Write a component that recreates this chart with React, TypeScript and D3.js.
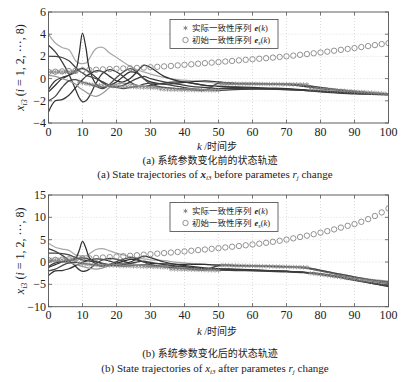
import React from 'react';
import * as d3 from 'd3';

const W = 417;
const H = 382;

// knots (time steps) at which trajectory values were read
const K = [0, 2, 4, 6, 8, 9, 10, 11, 12, 14, 16, 18, 20, 22, 24, 26, 28, 30, 34, 38, 42, 46, 50, 55, 60, 65, 70, 75, 80, 85, 90, 95, 100];
const xTicks = [0, 10, 20, 30, 40, 50, 60, 70, 80, 90, 100];
const topYTicks = [-4, -2, 0, 2, 4, 6];
const botYTicks = [-10, -5, 0, 5, 10, 15];

// ---------- (a) before parameter change ----------
const topT1 = [4.0, 3.2, 2.8, 2.6, 1.6, 1.4, 1.35, 1.4, 1.8, 2.7, 2.8, 2.3, 1.9, 1.5, 1.1, 0.8, 0.6, 0.4, 0.1, -0.1, -0.2, -0.3, -0.4, -0.45, -0.5, -0.5, -0.5, -0.6, -0.85, -1.0, -1.15, -1.3, -1.42];
const topT2 = [-1.2, -0.6, 0.0, 0.3, 0.8, 2.2, 4.1, 2.8, 0.9, -0.5, -0.8, -0.6, -0.3, 0.2, 0.6, 0.5, 0.0, -0.3, -0.5, -0.4, -0.3, -0.2, -0.3, -0.45, -0.5, -0.5, -0.55, -0.7, -0.9, -1.05, -1.2, -1.3, -1.4];
const topT3 = [3.0, 2.4, 1.5, 0.4, -1.0, -1.7, -2.1, -2.0, -1.6, -0.4, 0.5, 0.8, 0.6, 0.2, -0.3, -0.6, -0.7, -0.6, -0.4, -0.3, -0.4, -0.6, -0.7, -0.8, -0.85, -0.9, -0.95, -1.05, -1.12, -1.2, -1.3, -1.38, -1.45];
const topT4 = [2.0, 2.0, 1.9, 1.6, 1.0, 0.7, 0.5, 0.3, 0.2, 0.0, -0.3, -0.6, -0.8, -0.9, -0.8, -0.7, -0.5, -0.4, -0.5, -0.7, -0.9, -1.0, -1.05, -1.0, -0.95, -0.95, -1.0, -1.05, -1.15, -1.25, -1.32, -1.38, -1.43];
const topT5 = [-3.0, -2.0, -1.9, -1.5, -0.8, -0.4, -0.1, 0.2, 0.4, 0.7, 0.6, 0.2, -0.2, -0.3, 0.0, 0.6, 1.2, 1.0, 0.2, -0.2, -0.4, -0.6, -0.7, -0.75, -0.8, -0.85, -0.9, -1.0, -1.1, -1.2, -1.3, -1.37, -1.43];
const topT6 = [0.3, 0.2, 0.0, -0.2, -0.5, -0.8, -1.0, -1.2, -1.4, -1.6, -1.3, -0.8, -0.5, -0.4, -0.5, -0.6, -0.7, -0.75, -0.8, -0.9, -0.95, -1.0, -0.6, -0.5, -0.48, -0.47, -0.48, -0.55, -0.8, -1.0, -1.15, -1.3, -1.42];
const topT7 = [-1.0, -0.2, 0.1, 0.3, 0.6, 0.85, 0.9, 0.8, 0.6, 0.1, -0.4, -0.7, -0.75, -0.6, -0.3, 0.0, 0.2, 0.0, -0.3, -0.5, -0.7, -0.8, -0.9, -0.9, -0.92, -0.95, -1.0, -1.05, -1.2, -1.3, -1.38, -1.42, -1.47];
const topT8 = [-2.0, -1.6, -0.8, -0.2, -0.1, -0.2, -0.3, -0.4, -0.5, -0.7, -0.9, -0.5, 0.1, 0.6, 0.9, 0.6, 0.0, -0.5, -0.8, -0.9, -1.0, -1.05, -0.4, -0.42, -0.44, -0.46, -0.5, -0.6, -0.8, -1.0, -1.15, -1.3, -1.4];

// actual consensus sequence e(k), k = 0..100
const topE = [
  0.6, 0.6, 0.6, 0.6, 0.6, 0.6, 0.6, 0.6, 0.6,
  -0.3, -0.4, -0.45, -0.5, -0.55, -0.6, -0.6, -0.62, -0.65, -0.65, -0.68, -0.7, -0.7, -0.72, -0.72, -0.75, -0.75, -0.78, -0.78, -0.8, -0.8, -0.82, -0.82, -0.85,
  -0.95, -0.97, -0.98, -1.0, -1.0, -1.0, -1.02, -1.02, -1.03, -1.03, -1.04, -1.04, -1.05, -1.05, -1.05, -1.06, -1.06, -1.06,
  -0.45, -0.45, -0.46, -0.46, -0.46, -0.47, -0.47, -0.47, -0.48, -0.48, -0.48, -0.49, -0.49, -0.49, -0.5, -0.5, -0.5, -0.5, -0.51, -0.51, -0.51, -0.52, -0.52, -0.52, -0.53, -0.53,
  -0.9, -0.92, -0.94, -0.96, -0.98, -1.0, -1.02, -1.04, -1.06, -1.08, -1.1, -1.12, -1.14, -1.16, -1.18, -1.2, -1.22, -1.24, -1.26, -1.28, -1.3, -1.33, -1.36, -1.4,
];
// initial consensus sequence e_s(k), k = 0, 2, ..., 100
const topES = [
  0.6, 0.62, 0.65, 0.68, 0.72, 0.76, 0.78, 0.8, 0.83, 0.86, 0.89, 0.91, 0.93, 0.96, 0.99, 1.02, 1.06, 1.1, 1.14, 1.19, 1.24, 1.29, 1.34, 1.39, 1.44, 1.49,
  1.54, 1.59, 1.64, 1.69, 1.74, 1.79, 1.84, 1.89, 1.95, 2.01, 2.07, 2.14, 2.21, 2.28, 2.35, 2.43, 2.51, 2.59, 2.67, 2.75, 2.84, 2.93, 3.02, 3.11, 3.2,
];

// ---------- (b) after parameter change ----------
const botT1 = [4.2, 3.3, 2.9, 2.6, 1.6, 1.4, 1.35, 1.4, 1.8, 2.8, 3.0, 2.5, 2.0, 1.6, 1.2, 0.9, 0.7, 0.5, 0.3, -0.1, -0.3, -0.5, -0.6, -0.75, -0.85, -0.95, -1.05, -1.2, -1.8, -2.6, -3.3, -3.9, -4.3];
const botT2 = [-1.2, -0.6, 0.0, 0.3, 0.9, 2.5, 4.6, 3.1, 1.0, -0.5, -0.8, -0.6, -0.3, 0.2, 0.6, 0.5, 0.0, -0.3, -0.4, -0.5, -0.5, -0.55, -0.7, -0.8, -0.9, -1.0, -1.1, -1.3, -2.0, -2.8, -3.5, -4.2, -4.8];
const botT3 = [3.0, 2.4, 1.5, 0.4, -1.0, -1.7, -2.1, -2.0, -1.6, -0.4, 0.5, 0.8, 0.6, 0.2, -0.3, -0.6, -0.8, -0.9, -0.9, -1.1, -1.3, -1.5, -1.6, -1.7, -1.8, -1.95, -2.1, -2.3, -2.7, -3.3, -4.0, -4.7, -5.4];
const botT4 = [2.0, 2.0, 1.9, 1.6, 1.0, 0.7, 0.5, 0.3, 0.2, 0.0, -0.3, -0.6, -0.8, -0.9, -0.8, -0.7, -0.6, -0.7, -1.0, -1.3, -1.5, -1.7, -1.8, -1.9, -2.0, -2.1, -2.2, -2.4, -2.8, -3.4, -4.1, -4.8, -5.5];
const botT5 = [-3.0, -2.0, -1.9, -1.5, -0.8, -0.4, -0.1, 0.2, 0.4, 0.7, 0.6, 0.2, -0.2, -0.3, 0.0, 0.7, 1.3, 1.0, 0.0, -0.6, -1.0, -1.3, -1.5, -1.6, -1.75, -1.9, -2.05, -2.25, -2.6, -3.2, -3.9, -4.6, -5.2];
const botT6 = [0.3, 0.2, 0.0, -0.2, -0.5, -0.8, -1.0, -1.2, -1.4, -1.6, -1.3, -0.8, -0.5, -0.4, -0.5, -0.6, -0.7, -0.85, -1.0, -1.2, -1.4, -1.5, -0.9, -0.85, -0.9, -1.0, -1.1, -1.25, -1.9, -2.7, -3.4, -4.1, -4.6];
const botT7 = [-1.0, -0.2, 0.1, 0.3, 0.6, 0.85, 0.9, 0.8, 0.6, 0.1, -0.4, -0.7, -0.75, -0.6, -0.3, 0.0, 0.2, -0.1, -0.6, -0.9, -1.2, -1.5, -1.7, -1.75, -1.85, -1.95, -2.1, -2.3, -2.7, -3.3, -4.0, -4.7, -5.3];
const botT8 = [-2.0, -1.6, -0.8, -0.2, -0.1, -0.2, -0.3, -0.4, -0.5, -0.7, -0.9, -0.5, 0.1, 0.6, 1.0, 0.7, 0.0, -0.6, -1.1, -1.4, -1.6, -1.8, -0.8, -0.8, -0.85, -0.95, -1.05, -1.2, -1.85, -2.6, -3.3, -4.0, -4.5];

const botE = [
  0.5, 0.5, 0.5, 0.5, 0.5, 0.5, 0.5, 0.5, 0.5,
  -0.3, -0.4, -0.5, -0.55, -0.6, -0.65, -0.7, -0.72, -0.75, -0.78, -0.8, -0.82, -0.85, -0.88, -0.9, -0.92, -0.95, -0.98, -1.0, -1.02, -1.05, -1.08, -1.1, -1.12, -1.15, -1.18, -1.2,
  -1.6, -1.62, -1.64, -1.66, -1.68, -1.7, -1.72, -1.74, -1.76, -1.78, -1.8, -1.82, -1.84, -1.86, -1.88,
  -0.7, -0.72, -0.74, -0.76, -0.78, -0.8, -0.82, -0.84, -0.86, -0.88, -0.9, -0.92, -0.94, -0.96, -0.98, -1.0, -1.02, -1.04, -1.06, -1.08, -1.1, -1.12, -1.14, -1.16, -1.18, -1.2,
  -2.5, -2.6, -2.7, -2.8, -2.9, -3.0, -3.1, -3.2, -3.3, -3.4, -3.5, -3.6, -3.7, -3.8, -3.9, -4.0, -4.1, -4.2, -4.3, -4.4, -4.5, -4.6, -4.75, -4.9,
];
const botES = [
  0.45, 0.5, 0.55, 0.62, 0.7, 0.78, 0.85, 0.93, 1.01, 1.1, 1.2, 1.3, 1.41, 1.52, 1.64, 1.76, 1.88, 2.0, 2.12, 2.25, 2.38, 2.52, 2.66, 2.8, 2.95, 3.1,
  3.26, 3.42, 3.58, 3.75, 3.92, 4.1, 4.3, 4.52, 4.76, 5.02, 5.3, 5.6, 5.9, 6.22, 6.56, 6.92, 7.3, 7.7, 8.1, 8.5, 9.0, 9.6, 10.3, 11.1, 12.0,
];

const lineColors = ['#a8a8a8', '#2e2e2e', '#3a3a3a', '#444', '#333', '#999', '#3d3d3d', '#4a4a4a'];

const SERIF = '"Liberation Serif", "Times New Roman", serif';
const CJK = '"Noto Sans CJK SC", sans-serif';

const X0 = 48.5;
const X1 = 388.5;

type PanelProps = {
  top: number;
  bottom: number;
  domain: [number, number];
  yTicks: number[];
  traj: number[][];
  e: number[];
  es: number[];
};

function Panel({ top, bottom, domain, yTicks, traj, e, es }: PanelProps) {
  const x = d3.scaleLinear().domain([0, 100]).range([X0, X1]);
  const y = d3.scaleLinear().domain(domain).range([bottom, top]);
  const line = d3
    .line<number>()
    .x((_, i) => x(K[i]))
    .y((v) => y(v))
    .curve(d3.curveCatmullRom.alpha(0.5));
  const star = d3.symbol(d3.symbolAsterisk, 14)() as string;
  const clipId = `clip${Math.round(top)}`;
  const tl = 3.5;
  const axisColor = '#555';
  return (
    <g>
      <defs>
        <clipPath id={clipId}>
          <rect x={X0} y={top} width={X1 - X0} height={bottom - top} />
        </clipPath>
      </defs>
      <rect x={X0} y={top} width={X1 - X0} height={bottom - top} fill="#fff" />
      {xTicks.map((t) => (
        <line key={'gx' + t} x1={x(t)} x2={x(t)} y1={top} y2={bottom} stroke="#cfcfcf" strokeWidth={0.7} strokeDasharray="1,2" />
      ))}
      {yTicks.map((t) => (
        <line key={'gy' + t} x1={X0} x2={X1} y1={y(t)} y2={y(t)} stroke="#cfcfcf" strokeWidth={0.7} strokeDasharray="1,2" />
      ))}
      <g clipPath={`url(#${clipId})`}>
        {traj.map((s, i) => (
          <path key={'t' + i} d={line(s) as string} fill="none" stroke={lineColors[i]} strokeWidth={1.25} />
        ))}
        {e.map((v, k) => (
          <path key={'e' + k} d={star} transform={`translate(${x(k)},${y(v)})`} fill="none" stroke="#8a8a8a" strokeWidth={0.8} />
        ))}
        {es.map((v, i) => (
          <circle key={'c' + i} cx={x(i * 2)} cy={y(v)} r={2.7} fill="none" stroke="#777" strokeWidth={0.8} />
        ))}
      </g>
      <rect x={X0} y={top} width={X1 - X0} height={bottom - top} fill="none" stroke={axisColor} strokeWidth={0.9} />
      {xTicks.map((t) => (
        <g key={'tx' + t}>
          <line x1={x(t)} x2={x(t)} y1={bottom} y2={bottom - tl} stroke={axisColor} strokeWidth={0.8} />
          <line x1={x(t)} x2={x(t)} y1={top} y2={top + tl} stroke={axisColor} strokeWidth={0.8} />
          <text x={x(t)} y={bottom + 12.5} textAnchor="middle" fontFamily={SERIF} fontSize={12} fill="#222">
            {t}
          </text>
        </g>
      ))}
      {yTicks.map((t) => (
        <g key={'ty' + t}>
          <line x1={X0} x2={X0 + tl} y1={y(t)} y2={y(t)} stroke={axisColor} strokeWidth={0.8} />
          <line x1={X1} x2={X1 - tl} y1={y(t)} y2={y(t)} stroke={axisColor} strokeWidth={0.8} />
          <text x={X0 - 2.5} y={y(t) + 4} textAnchor="end" fontFamily={SERIF} fontSize={12} fill="#222">
            {t < 0 ? '\u2212' + Math.abs(t) : t}
          </text>
        </g>
      ))}
      {/* y-axis label */}
      <text
        transform={`translate(24,${(top + bottom) / 2}) rotate(-90)`}
        textAnchor="middle"
        fontFamily={SERIF}
        fontSize={12}
        fill="#222"
      >
        <tspan fontStyle="italic">x</tspan>
        <tspan fontStyle="italic" fontSize={8} dy={2.5}>i3</tspan>
        <tspan dy={-2.5}> (</tspan>
        <tspan fontStyle="italic">i</tspan>
        <tspan> = 1, 2, ···, 8)</tspan>
      </text>
      {/* legend */}
      <g>
        <rect x={170} y={top + 7.5} width={108} height={29} fill="#fff" stroke="#444" strokeWidth={0.8} />
        <path d={star} transform={`translate(185.5,${top + 16})`} fill="none" stroke="#777" strokeWidth={0.8} />
        <text x={192} y={top + 19} fontFamily={CJK} fontSize={8.5} fill="#222">
          实际一致性序列
          <tspan fontFamily={SERIF} fontStyle="italic" fontWeight="bold" dx={3}>e</tspan>
          <tspan fontFamily={SERIF}>(</tspan>
          <tspan fontFamily={SERIF} fontStyle="italic">k</tspan>
          <tspan fontFamily={SERIF}>)</tspan>
        </text>
        <circle cx={185.5} cy={top + 28} r={2.7} fill="none" stroke="#777" strokeWidth={0.8} />
        <text x={192} y={top + 31.2} fontFamily={CJK} fontSize={8.5} fill="#222">
          初始一致性序列
          <tspan fontFamily={SERIF} fontStyle="italic" fontWeight="bold" dx={3}>e</tspan>
          <tspan fontFamily={SERIF} fontStyle="italic" fontSize={6} dy={2}>s</tspan>
          <tspan fontFamily={SERIF} dy={-2}>(</tspan>
          <tspan fontFamily={SERIF} fontStyle="italic">k</tspan>
          <tspan fontFamily={SERIF}>)</tspan>
        </text>
      </g>
    </g>
  );
}

function XLabel({ y }: { y: number }) {
  return (
    <text x={217} y={y} textAnchor="middle" fontSize={10} fill="#222">
      <tspan fontFamily={SERIF} fontStyle="italic" fontSize={11}>k</tspan>
      <tspan fontFamily={SERIF}> /</tspan>
      <tspan fontFamily={CJK}>时间步</tspan>
    </text>
  );
}

export default function App() {
  return (
    <svg
      width={W}
      height={H}
      viewBox={`0 0 ${W} ${H}`}
      style={{ position: 'absolute', left: 0, top: 0, background: '#fff' }}
    >
      <rect width={W} height={H} fill="#fff" />
      <Panel
        top={12}
        bottom={123}
        domain={[-4, 6]}
        yTicks={topYTicks}
        traj={[topT1, topT2, topT3, topT4, topT5, topT6, topT7, topT8]}
        e={topE}
        es={topES}
      />
      <XLabel y={150} />
      <text x={210} y={164} textAnchor="middle" fontSize={10} fill="#222">
        <tspan fontFamily={SERIF} fontSize={11}>(a) </tspan>
        <tspan fontFamily={CJK}>系统参数变化前的状态轨迹</tspan>
      </text>
      <text x={215} y={177.5} textAnchor="middle" fontFamily={SERIF} fontSize={11} fill="#222">
        (a) State trajectories of{' '}
        <tspan fontStyle="italic" fontWeight="bold">x</tspan>
        <tspan fontStyle="italic" fontSize={7} dy={2.5}>i3</tspan>
        <tspan dy={-2.5}> before parametes </tspan>
        <tspan fontStyle="italic">r</tspan>
        <tspan fontStyle="italic" fontSize={7} dy={2.5}>j</tspan>
        <tspan dy={-2.5}> change</tspan>
      </text>

      <Panel
        top={195}
        bottom={306.7}
        domain={[-10, 15]}
        yTicks={botYTicks}
        traj={[botT1, botT2, botT3, botT4, botT5, botT6, botT7, botT8]}
        e={botE}
        es={botES}
      />
      <XLabel y={335} />
      <text x={210} y={357} textAnchor="middle" fontSize={10} fill="#222">
        <tspan fontFamily={SERIF} fontSize={11}>(b) </tspan>
        <tspan fontFamily={CJK}>系统参数变化后的状态轨迹</tspan>
      </text>
      <text x={215} y={371.5} textAnchor="middle" fontFamily={SERIF} fontSize={11} fill="#222">
        (b) State trajectories of{' '}
        <tspan fontStyle="italic">x</tspan>
        <tspan fontStyle="italic" fontSize={7} dy={2.5}>i3</tspan>
        <tspan dy={-2.5}> after parametes </tspan>
        <tspan fontStyle="italic">r</tspan>
        <tspan fontStyle="italic" fontSize={7} dy={2.5}>j</tspan>
        <tspan dy={-2.5}> change</tspan>
      </text>
    </svg>
  );
}
